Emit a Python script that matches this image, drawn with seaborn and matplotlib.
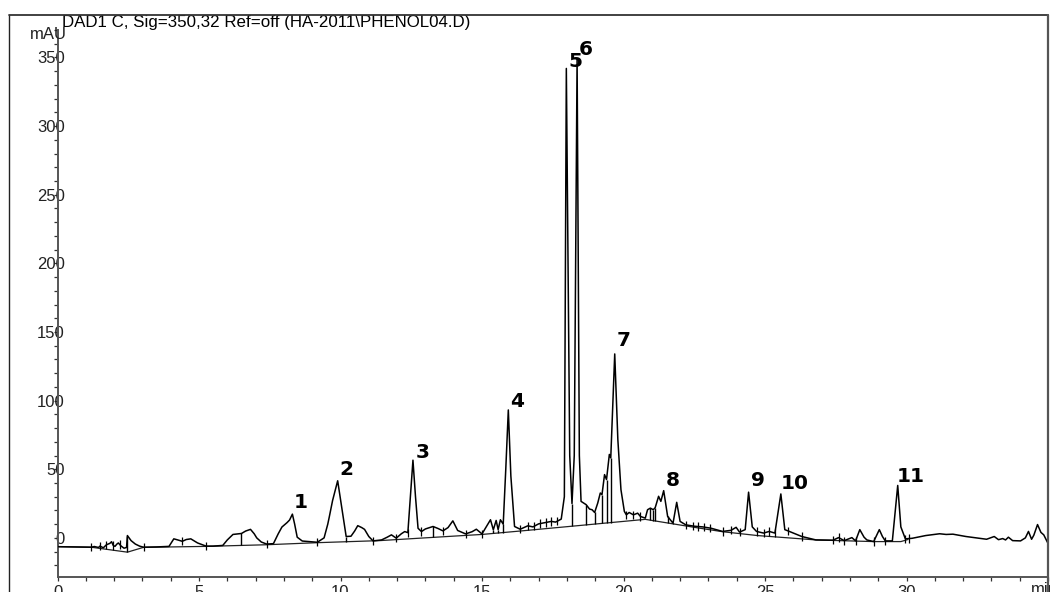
import numpy as np
import pandas as pd
import matplotlib
matplotlib.use("Agg")
import matplotlib.pyplot as plt
from matplotlib.lines import Line2D
from matplotlib.patches import Rectangle
from matplotlib.ticker import MultipleLocator, FixedLocator
import seaborn as sns

# ---------------- data ----------------
title = "DAD1 C, Sig=350,32 Ref=off (HA-2011\\PHENOL04.D)"
y_unit = "mAU"
x_unit = "min"

time_min = [
    0.0, 0.6, 1.19, 1.3, 1.45, 1.5, 1.62, 1.73, 1.85, 1.91, 1.97, 2.03, 2.1, 2.15, 2.25, 2.35, 2.44,
    2.47, 2.6, 2.75, 2.9, 3.04,
    3.5, 3.94, 4.11, 4.25, 4.41, 4.55, 4.71, 4.95, 5.25, 5.5, 5.84, 6.0, 6.2, 6.5, 6.65, 6.82, 6.95,
    7.04, 7.2, 7.39, 7.63,
    7.8, 7.93, 8.11, 8.2, 8.3, 8.38, 8.47, 8.65, 9.18,
    9.42, 9.55, 9.6, 9.72, 9.9, 9.97, 10.08, 10.2, 10.37, 10.5, 10.61, 10.75, 10.85, 11.0, 11.15,
    11.45, 11.65, 11.8, 11.97, 12.15, 12.27, 12.38,
    12.47, 12.56, 12.65, 12.74, 12.86, 13.0, 13.27, 13.45, 13.62, 13.8, 13.97, 14.14, 14.42, 14.65,
    14.8, 15.0, 15.3, 15.4, 15.5, 15.57, 15.65, 15.75,
    15.84, 15.93, 16.02, 16.15, 16.35, 16.62, 16.8, 17.0, 17.2, 17.45, 17.6, 17.8,
    17.91, 17.98, 18.1, 18.18, 18.26, 18.36, 18.44, 18.5, 18.68, 18.8, 18.89, 18.98, 19.09, 19.18,
    19.24, 19.33, 19.4, 19.5, 19.55,
    19.69, 19.8, 19.91, 20.03, 20.1, 20.2, 20.35, 20.5, 20.6, 20.77, 20.85, 20.95, 21.05, 21.12,
    21.24, 21.32, 21.42, 21.56, 21.75, 21.88, 22.0, 22.2,
    22.5, 22.8, 23.1, 23.5, 23.8, 23.98, 24.1, 24.3,
    24.42, 24.55, 24.7, 24.95, 25.15, 25.35,
    25.56, 25.7, 25.8, 26.0, 26.3, 26.8, 27.4, 27.6, 27.8, 28.07, 28.2, 28.35, 28.5, 28.6, 28.84,
    29.04, 29.15, 29.25, 29.5,
    29.69, 29.8, 29.96, 30.2, 30.68, 31.17, 31.4, 31.64, 32.1, 32.83, 33.1, 33.25, 33.4, 33.5, 33.6,
    33.75, 34.03, 34.2, 34.31, 34.42, 34.5, 34.63, 34.75, 34.85, 35.0,
]
signal_mau = [
    -6.4, -6.6, -6.8, -6.3, -7.0, -6.0, -7.2, -5.0, -4.0, -2.8, -5.5, -6.2, -4.5, -3.7, -6.0, -7.5, -7.0,
    1.7, -2.0, -4.5, -6.0, -6.8,
    -6.6, -6.2, -0.7, -1.5, -2.5, -1.2, -0.7, -3.7, -6.0, -6.0, -5.5, -1.5, 2.5, 3.2, 5.0, 6.2, 3.0,
    0.0, -3.0, -4.5, -4.2,
    3.0, 7.9, 11.1, 13.0, 17.3, 10.0, 0.5, -2.3, -3.2,
    0.0, 10.0, 14.9, 27.2, 41.6, 32.0, 17.3, 1.0, 1.2, 5.0, 8.9, 7.5, 6.2, 1.0, -2.2,
    -1.5, 0.5, 2.2, -0.2, 3.0, 4.6, 3.8,
    30.0, 56.6, 30.0, 7.0, 4.6, 6.5, 8.3, 6.8, 5.1, 7.5, 12.4, 5.4, 2.9, 4.5,
    6.3, 2.9, 13.2, 5.9, 12.7, 6.0, 13.2, 10.0,
    50.0, 93.2, 45.0, 8.3, 6.3, 8.8, 8.0, 10.2, 11.0, 12.0, 11.5, 13.7,
    30.0, 342.0, 60.0, 25.0, 60.0, 349.0, 60.0, 26.6, 24.2, 21.0, 20.5, 18.5, 25.4, 32.7,
    31.5, 46.1, 42.5, 60.8, 58.3,
    134.0, 71.7, 35.1, 19.3, 16.8, 18.5, 16.8, 18.0, 15.6, 14.4, 20.5, 21.7, 20.5, 22.0,
    30.3, 26.6, 34.4, 15.6, 10.7, 25.9, 12.0, 9.5,
    8.5, 8.0, 7.0, 4.7, 5.5, 7.7, 4.2, 6.0,
    33.3, 8.0, 4.7, 3.5, 4.7, 3.5,
    32.0, 6.0, 5.2, 3.5, 1.0, -1.5, -1.7, 0.2, -2.0, 0.2, -2.2, 6.0, 0.5, -1.5, -2.7,
    6.0, 1.0, -2.2, -2.2,
    38.2, 8.0, -0.7, -0.3, 1.7, 3.0, 2.5, 2.7, 1.0, -1.0, 1.0, -1.3, -0.5, -1.5, 0.5,
    -2.0, -2.2, 0.0, 4.7, -1.0, 2.0, 9.7, 4.0, 2.2, -4.0,
]

# integration baseline drawn by the software
baseline_t = [0.0, 1.19, 2.47, 3.04, 5.25, 7.39, 9.18, 11.38, 14.42, 15.0, 16.35, 18.44, 20.77,
              22.68, 23.5, 24.73, 26.8, 28.84, 29.8, 30.05]
baseline_y = [-6.4, -6.8, -10.4, -6.9, -6.2, -5.0, -3.5, -2.0, 1.8, 2.5, 5.0, 9.0, 13.5,
              7.1, 4.5, 1.7, -1.5, -2.7, -2.7, -1.2]

# integration event marks and drop lines
event_t = [1.19, 1.5, 1.73, 1.97, 2.2, 3.04, 4.41, 5.25, 7.39, 9.18, 11.15, 11.97, 12.38, 12.86,
           13.62, 14.42, 15.0, 16.35, 16.62, 16.85, 17.05, 17.25, 17.45, 17.65, 20.1, 20.35, 20.6,
           22.2, 22.45, 22.65, 22.85, 23.05, 23.5, 23.8, 24.1, 24.7, 24.95, 25.15, 25.35, 25.8,
           26.3, 27.4, 27.6, 27.8, 28.2, 28.84, 29.25, 29.96, 30.1]
drop_t = [2.47, 6.5, 10.2, 13.27, 15.4, 15.57, 15.75, 18.18, 18.68, 18.98, 19.24, 19.4, 19.55,
          20.95, 21.05, 21.12, 21.56, 21.75]

# peak numbers and where they are printed
peak_ids = ["1", "2", "3", "4", "5", "6", "7", "8", "9", "10", "11"]
peak_label_t = [8.6, 10.2, 12.9, 16.25, 18.3, 18.65, 20.0, 21.75, 24.75, 26.05, 30.15]
peak_label_y = [25.5, 49.5, 62.5, 99.0, 347.0, 356.0, 143.5, 41.5, 41.5, 39.5, 45.0]

x_ticks = [0, 5, 10, 15, 20, 25, 30]
y_ticks = [0, 50, 100, 150, 200, 250, 300, 350]

# ---------------- figure ----------------
sns.set_style("white")
plt.rcParams["font.family"] = ["Liberation Sans", "DejaVu Sans"]

W, H = 1052, 592
fig = plt.figure(figsize=(W / 100, H / 100), dpi=100)
ax_l, ax_r, ax_t, ax_b = 57.5, 1048.0, 30.0, 577.0
ax = fig.add_axes([ax_l / W, 1 - ax_b / H, (ax_r - ax_l) / W, (ax_b - ax_t) / H])
ax.set_facecolor("white")

df = pd.DataFrame({"t": time_min, "s": signal_mau})
sns.lineplot(data=df, x="t", y="s", ax=ax, color="black", lw=1.1,
             estimator=None, sort=False, zorder=3)
bdf = pd.DataFrame({"t": baseline_t, "s": baseline_y})
sns.lineplot(data=bdf, x="t", y="s", ax=ax, color="#222222", lw=0.9,
             estimator=None, sort=False, zorder=2)

ev_y = np.interp(event_t, time_min, signal_mau)
ax.vlines(event_t, ev_y - 3.0, ev_y + 3.0, color="black", lw=0.9, zorder=4)
dr_top = np.interp(drop_t, time_min, signal_mau)
dr_bot = np.interp(drop_t, baseline_t, baseline_y)
ax.vlines(drop_t, dr_bot, dr_top, color="black", lw=1.0, zorder=4)

for lab, tx, ty in zip(peak_ids, peak_label_t, peak_label_y):
    ax.text(tx, ty, lab, ha="center", va="center", fontsize=14.5, fontweight="bold",
            family=["DejaVu Sans"], color="black", zorder=6)

ax.set_xlim(0, 35)
ax.set_ylim(-28.5, 370)
ax.set_xlabel("")
ax.set_ylabel("")
ax.grid(False)

ax.xaxis.set_major_locator(FixedLocator(x_ticks))
ax.xaxis.set_minor_locator(MultipleLocator(1))
ax.set_xticklabels([str(v) for v in x_ticks])
ax.yaxis.set_major_locator(FixedLocator(y_ticks))
ax.yaxis.set_minor_locator(MultipleLocator(10))
ax.set_yticklabels([str(v) for v in y_ticks])

for side in ("top", "right"):
    ax.spines[side].set_visible(False)
for side in ("left", "bottom"):
    ax.spines[side].set_color("#555555")
    ax.spines[side].set_linewidth(1.4)

ax.tick_params(axis="x", which="both", direction="out", length=3, width=0.9,
               color="#333333", bottom=True, labelsize=12, pad=3, labelcolor="#222222")
ax.tick_params(axis="y", which="both", direction="out", length=3, width=0.9,
               color="#333333", left=True, labelsize=12, pad=-8.4, labelcolor="#222222")

fig.text(1044 / W, 1 - 590 / H, x_unit, ha="center", va="center", fontsize=12, color="#222222")
fig.text(67 / W, 1 - 34.5 / H, y_unit, ha="right", va="center", fontsize=12, color="#222222")
fig.text(62 / W, 1 - 22.5 / H, title, ha="left", va="center", fontsize=12.2, color="black")

# mask beyond the right frame line (reference is cut there)
fig.add_artist(Rectangle((1049.5 / W, 0), 1, 1, transform=fig.transFigure,
                         facecolor="white", edgecolor="none", zorder=10))
# outer frame
fx0, fx1, fy = 8.5 / W, 1048.3 / W, 1 - 15 / H
fig.add_artist(Line2D([fx0, fx0], [0, fy], transform=fig.transFigure, color="#222222", lw=1.0, zorder=11))
fig.add_artist(Line2D([fx0, fx1], [fy, fy], transform=fig.transFigure, color="#333333", lw=1.3, zorder=11))
fig.add_artist(Line2D([fx1, fx1], [0, fy], transform=fig.transFigure, color="#555555", lw=1.6, zorder=11))

fig.savefig("out.png", dpi=100, facecolor="white")
